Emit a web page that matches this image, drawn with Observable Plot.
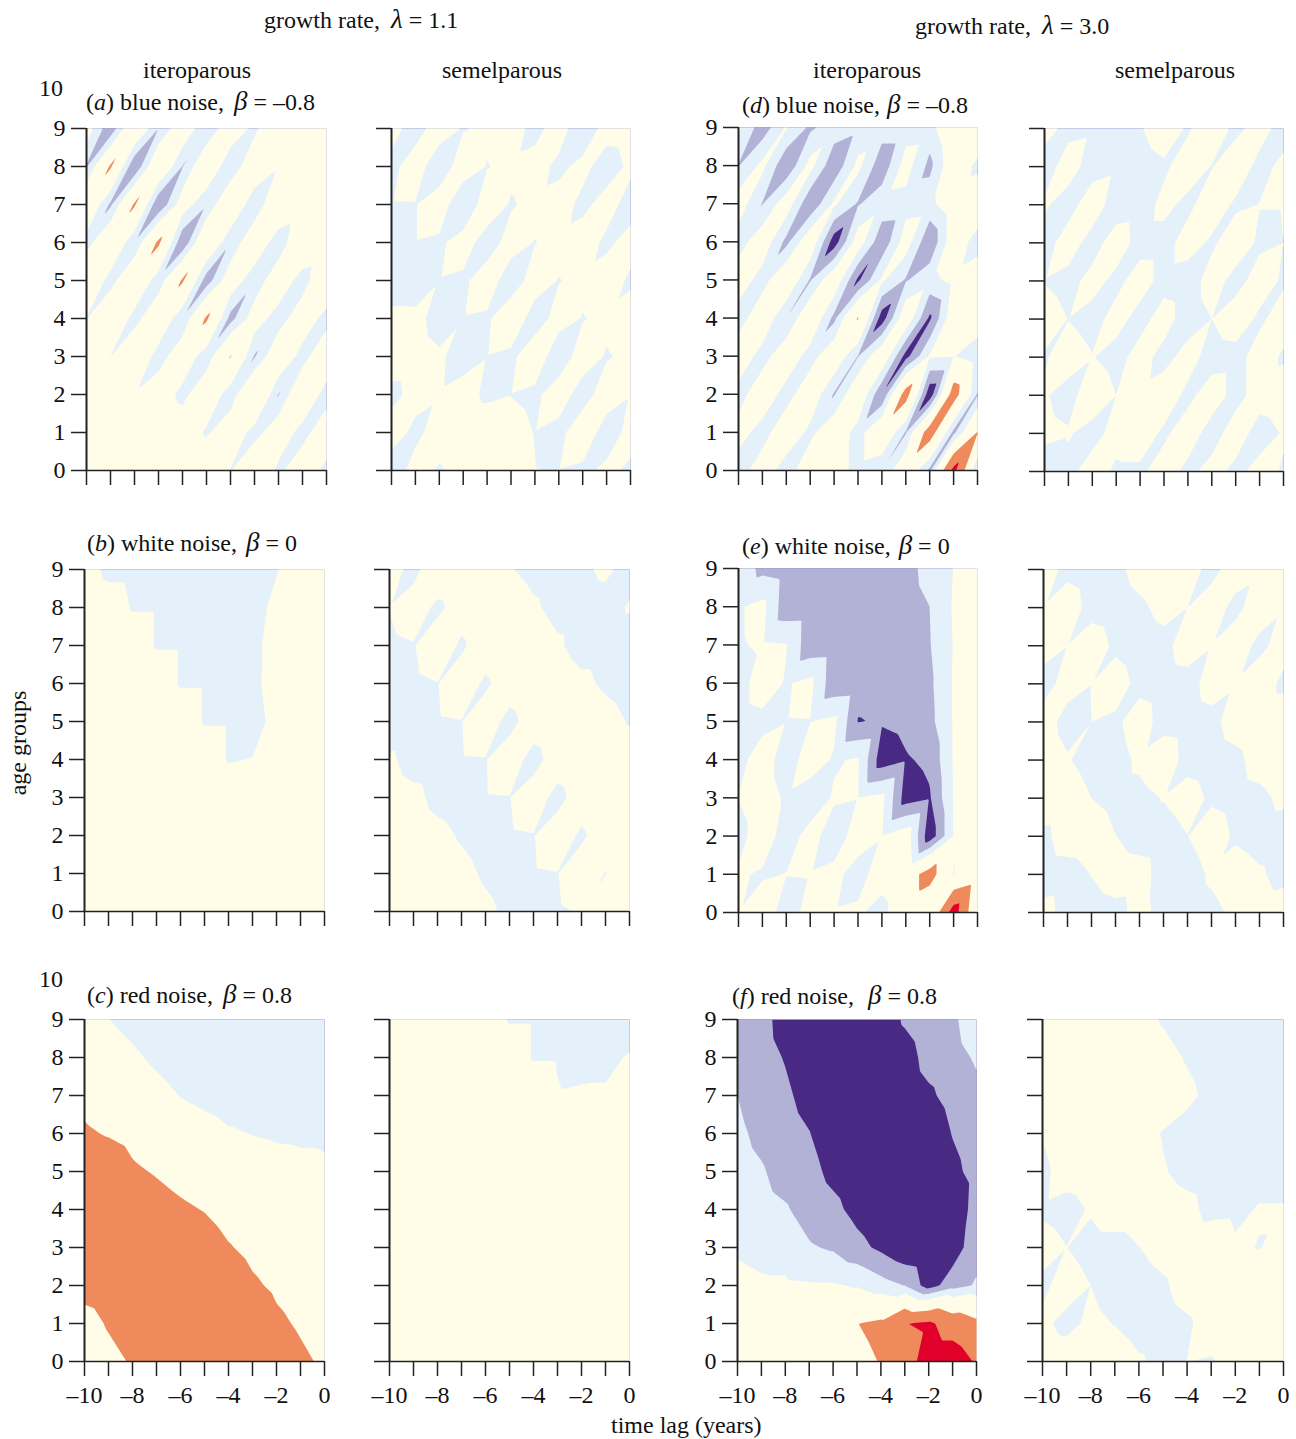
<!DOCTYPE html>
<html><head><meta charset="utf-8">
<script src="https://cdn.jsdelivr.net/npm/d3@7"></script>
<script src="https://cdn.jsdelivr.net/npm/@observablehq/plot@0.6"></script>
<style>
html,body{margin:0;padding:0;background:#fff}
#page{position:relative;width:1296px;height:1439px;overflow:hidden;font-family:"Liberation Serif",serif;font-size:24px;color:#111}
#page svg{position:absolute;overflow:visible;background:none}
.t{position:absolute;line-height:24px;white-space:pre}
.g{font-size:27px;font-style:italic}
</style></head><body><div id="page"></div>
<script>
const lags=[-10,-9,-8,-7,-6,-5,-4,-3,-2,-1,0];
const ages=[9,8,7,6,5,4,3,2,1,0];
const levels=[-100,-2,-1,0,2,4];
const colors=["#482a85","#b2b2d6","#e4f1fb","#fffce8","#ef8a5d","#e0002a"];
// each table: one row per age (9 at the top), one column per lag (-10 .. 0)
const iter11Blue=[
[.7,-1.8,1.5,-1,1,-.9,.9,-.3,1.5,1.5,1.5],
[-1.1,2.2,-1.98,1.5,-1.05,1.3,-.9,1.15,.1,1.5,1.5],
[1.5,-1.2,2.2,-1.95,.7,-.9,1.5,-.9,1.4,.8,1.5],
[-.5,1.5,-.9,2.3,-1.9,1.6,-.9,1.2,-.8,1.4,1],
[1.5,-.5,1.5,-.7,2.2,-1.6,.9,-.8,1,-.6,1.4],
[-.05,1.5,-.5,1.3,-.9,2.25,-1.4,.7,-.6,.9,-.5],
[1.5,-.02,1.5,-.6,1,-.7,2.08,-1.1,1.2,-.5,1.2],
[1.5,1.5,.1,.9,-.4,1.2,-.7,2.04,-1.06,1.4,-.6],
[1.5,1.5,1.5,1.5,1,-.2,1,-.5,.9,-.5,1],
[1.5,1.5,1.5,1.5,1.5,1.5,-.05,1.5,-.3,1,-.4]];
const semel11Blue=[
[.4,-.5,.6,-.08,.25,.6,-.4,.6,-.9,.5,.6],
[-.3,.6,-.8,.7,-.05,.25,.5,-.3,.35,-.6,.25],
[-.05,-.05,.7,-1,.7,-.1,.3,.5,-.3,.5,-.5],
[-.8,-.05,-.2,.5,-.5,.4,-.03,.3,.6,-.25,.45],
[-.9,-.8,-.05,-.2,.55,-.55,.45,-.04,.25,.6,-.2],
[.4,.35,-.45,-.05,-.15,.7,-.45,.35,-.05,.2,.6],
[.6,.5,.15,-.4,-.03,-.2,.6,-.6,.5,-.08,.2],
[-.3,.35,.1,.4,-.2,-.02,-.2,.5,-.45,.55,.05],
[.5,-.25,.45,.7,.7,.3,-.03,-.3,.7,-.5,.3],
[-.6,.4,-.1,.3,.7,.6,.02,-.03,-.2,.2,-.15]];
const iter11White=[
[.4,-.2,-.2,-.4,-.4,-.4,-.4,-.3,-.05,.6,.8],
[.6,.4,-.05,-.05,-.3,-.4,-.4,-.3,.2,.8,.8],
[.8,.6,.4,-.05,-.05,-.3,-.3,-.2,.3,.8,.8],
[.8,.8,.6,.4,-.05,-.05,-.3,-.2,.35,.8,.8],
[.8,.8,.8,.6,.4,-.05,-.05,-.3,.25,.8,.8],
[.8,.8,.8,.8,.6,.4,-.05,.02,.6,.8,.8],
[.8,.8,.8,.8,.8,.8,.5,.5,.8,.8,.8],
[.8,.8,.8,.8,.8,.8,.8,.8,.8,.8,.8],
[.8,.8,.8,.8,.8,.8,.8,.8,.8,.8,.8],
[.8,.8,.8,.8,.8,.8,.8,.8,.8,.8,.8]];
const semel11White=[
[.4,-.3,.7,.8,.9,.1,-.4,-.6,-.2,.2,-.4],
[.03,.5,-.2,.4,.8,.8,.2,-.4,-.5,-.4,.1],
[-.2,-.05,.6,-.15,.5,.8,.8,.2,-.5,-.5,-.6],
[-.8,-.2,-.02,.5,-.15,.5,.8,.8,.3,-.2,-.6],
[-.9,-.8,-.08,-.02,.5,-.3,.5,.8,.9,.5,-.1],
[.25,-.6,-.7,-.05,-.03,.5,-.35,.5,.8,.9,.9],
[.8,.4,-.4,-.7,-.05,-.02,.5,-.3,.5,.9,.9],
[.9,.8,.4,-.15,-.6,-.1,-.03,.5,-.15,.5,.9],
[.9,.9,.8,.4,-.2,-.6,-.08,-.02,.5,-.03,.7],
[.9,.9,.9,.8,.3,-.3,-.5,-.1,.05,.7,.05]];
const iter11Red=[
[.55,.02,-.42,-.9,-.95,-.95,-.95,-.95,-.95,-.95,-.95],
[1.09,.65,.24,-.26,-.7,-.9,-.95,-.9,-.95,-.9,-.75],
[1.63,1.27,.9,.45,-.04,-.3,-.52,-.59,-.6,-.55,-.45],
[2.18,1.9,1.56,1.17,.7,.45,.13,-.03,-.12,-.15,-.15],
[3,2.9,2.22,1.88,1.5,1.19,.78,.53,.35,.25,.15],
[3.5,3.5,3,2.6,2.24,1.94,1.43,1.1,.83,.65,.45],
[3.5,3.5,3.5,3.3,3,2.7,2.1,1.66,1.3,1.05,.8],
[2.8,3.2,3.5,3.5,3.5,3.4,2.8,2.2,1.78,1.44,1.1],
[1.2,2.2,3,3.5,3.5,3.5,3.3,2.9,2.25,1.84,1.4],
[.6,1.4,2.2,3.5,3.5,3.5,3.5,3.3,2.7,2.25,1.8]];
const semel11Red=[
[.6,.6,.6,.6,.6,-.05,-.05,-.4,-.4,-.4,-.4],
[.5,.5,.5,.5,.5,.4,-.05,-.05,-.25,-.2,.07],
[.5,.5,.5,.5,.5,.5,.5,.05,.1,.1,.5],
[.5,.5,.5,.5,.5,.5,.5,.5,.5,.5,.5],
[.5,.5,.5,.5,.5,.5,.5,.5,.5,.5,.5],
[.5,.5,.5,.5,.5,.5,.5,.5,.5,.5,.5],
[.5,.5,.5,.5,.5,.5,.5,.5,.5,.5,.5],
[.5,.5,.5,.5,.5,.5,.5,.5,.5,.5,.5],
[.5,.5,.5,.5,.5,.5,.5,.5,.5,.5,.5],
[.5,.5,.5,.5,.5,.5,.5,.5,.5,.5,.5]];
const iter30Blue=[
[.2,-1.6,.1,-1.2,-.4,-.8,-.5,-.5,-.4,1.2,1.3],
[-1.05,.3,-1.9,.4,-1.8,.3,-1.7,.5,-1.3,1,-.3],
[.6,-1.05,.7,-1.9,.2,-1.1,-.3,-.4,-.3,.8,1],
[-.5,.8,-1.3,1,-2.6,.7,-1.8,.6,-1.9,.8,-.5],
[.7,-.5,1.2,-1.1,1,-2.2,.2,-1.1,-.3,.3,.8],
[-.6,1,-1.02,1.2,-1.3,2.1,-2.6,1,-2.2,.9,.6],
[.9,-.5,.9,-.5,1,-1.05,1.1,-2.4,.1,.05,-.6],
[-.5,.9,-.5,.9,-1.1,1.2,-1.98,2.8,-2.8,2.9,-1.1],
[.5,-.5,.9,-.3,1,-.5,1.4,-1.1,3,-1.3,2.1],
[-.6,.7,-.6,.9,.8,-.5,-1,1.2,-1.3,4.6,-1.1]];
const semel30Blue=[
[.4,-.3,-.15,-.6,-.1,.7,-.15,.8,-.3,.5,-.5],
[-.5,.5,-.5,-.2,-.6,-.2,.6,-.05,.8,-.4,.3],
[.15,-.5,.7,-.6,-.5,.3,-.3,.7,-.2,.03,.03],
[-.5,.6,-.5,.6,-.4,-.4,.5,-.2,.7,-.2,.0],
[-.05,-.4,.4,-.3,.5,-.4,-.6,.5,-.4,.5,-.15],
[.5,-.02,-.4,.4,-.4,.5,-.6,.0,.6,-.2,.5],
[-.1,.5,.05,-.4,.45,-.4,.5,-.5,-.4,.5,-.15],
[.1,-.4,.7,.0,.3,.7,-.3,.6,-.4,.5,.7],
[.3,.1,-.4,.4,.6,-.2,.6,-.5,.6,-.5,.1],
[-.7,-.3,.5,-.2,-.2,.5,-.3,.4,-.3,.4,-.1]];
const iter30White=[
[-.3,-1.29,-1.5,-1.6,-1.6,-1.6,-1.6,-1.4,-.6,.03,.8],
[-.1,.3,-1.64,-1.6,-1.6,-1.6,-1.6,-1.5,-1,.1,.9],
[-.1,.15,.05,-1.67,-1.6,-1.6,-1.6,-1.6,-1.05,.05,.9],
[-.5,.6,-.1,.3,-1.7,-1.6,-1.6,-1.6,-1.2,.1,.9],
[-.5,-.3,-.03,-.02,.25,-2.05,-1.9,-1.7,-1.3,.1,.9],
[-.3,.5,-.5,.5,-.1,.1,-2.6,-2.1,-1.8,.1,.9],
[.02,.5,-.15,-.5,.1,.02,.3,-2.5,-2.1,.05,.9],
[-.3,.5,-.4,.3,-.4,.35,.05,.7,-2.7,.05,.9],
[.1,-.1,.02,.05,.2,-.3,.4,1,2.8,-.05,.9],
[.02,.5,-.4,.3,.05,.13,-.35,1,.1,5,.1]];
const semel30White=[
[.5,-.3,-.6,-.3,.4,.7,.4,-.3,.5,.2,.9],
[.05,.6,-.4,-.6,-.2,.3,.0,.5,-.3,.6,.1],
[.4,.02,.6,-.2,-.6,-.3,.5,.05,.6,-.3,.5],
[-.4,.4,.02,.5,-.3,-.5,-.4,.4,.1,.7,-.3],
[.5,-.4,.0,-.2,.5,-.4,-.5,-.3,.5,.8,.9],
[.7,.1,-.5,-.4,.2,.7,-.4,-.6,-.3,.5,.9],
[.8,.7,.0,-.4,-.3,.05,.5,-.2,-.5,-.3,.3],
[-.3,.6,.7,.02,-.4,-.5,-.02,.7,-.2,-.6,-.7],
[-.6,-.5,.03,.5,.4,-.4,-.6,.2,.7,.2,-.5],
[.4,-.4,-.5,-.3,.3,-.3,-.6,-.3,.25,.7,.9]];
const iter30Red=[
[-1.6,-1.75,-2.3,-2.6,-2.8,-2.8,-2.7,-1.85,-1.3,-1.15,-.5],
[-1.3,-1.7,-2.05,-2.5,-2.8,-2.9,-2.9,-2.5,-1.6,-1.3,-.9],
[-1,-1.5,-1.85,-2.3,-2.7,-2.9,-3,-2.7,-2.2,-1.6,-1.2],
[-.8,-1.25,-1.65,-1.97,-2.5,-2.8,-3,-2.9,-2.8,-1.95,-1.4],
[-.6,-.9,-1.4,-1.7,-2.25,-2.6,-2.9,-3,-3,-2.3,-1.6],
[-.4,-.65,-.9,-1.4,-1.75,-2.3,-2.7,-3,-3.1,-2.9,-1.5],
[-.12,-.3,-.4,-.9,-1.12,-1.7,-2.2,-2.8,-3,-2.6,-1.3],
[.3,.15,.15,.1,.1,-.08,-.6,-1.02,-2.5,-1.4,-.9],
[.8,.8,.8,.9,.9,1.98,2.3,3.95,4.3,3.2,2.4],
[1,1,1,1,1,1.7,2.05,3,5,5,3.8]];
const semel30Red=[
[.8,.8,.8,.8,.4,-.1,-.6,-.6,-.6,-.6,-.6],
[.8,.8,.8,.8,.7,.4,-.1,-.6,-.6,-.6,-.6],
[.8,.8,.8,.8,.8,.7,.3,-.35,-.6,-.6,-.6],
[.07,.8,.8,.8,.4,-.07,-.5,-.6,-.6,-.6,-.6],
[-.3,.6,.8,.8,.8,.1,-.4,-.6,-.6,-.5,-.5],
[-.2,-.5,.15,.7,.7,.7,.4,-.4,-.3,.1,.1],
[.5,.02,-.5,-.5,-.02,.5,.8,1,.2,-.05,.5],
[-.3,.6,.0,-.5,-.6,-.2,.6,.9,.9,.9,.9],
[.3,-.4,.3,-.05,-.5,-.6,-.2,.6,.9,.9,.9],
[.9,.8,.8,.7,.15,-.3,.02,-.1,.5,.9,.9]];

const panels=[
 {grid:iter11Blue,  L:86,  R:326, T:128, B:470, yl:1, xl:0},
 {grid:semel11Blue, L:391, R:630, T:128, B:470, yl:0, xl:0},
 {grid:iter30Blue,  L:738, R:977, T:127, B:470, yl:1, xl:0},
 {grid:semel30Blue, L:1044,R:1283,T:128, B:471, yl:0, xl:0},
 {grid:iter11White, L:84,  R:324, T:569, B:911, yl:1, xl:0},
 {grid:semel11White,L:389, R:629, T:569, B:911, yl:0, xl:0},
 {grid:iter30White, L:738, R:977, T:568, B:912, yl:1, xl:0},
 {grid:semel30White,L:1043,R:1283,T:569, B:912, yl:0, xl:0},
 {grid:iter11Red,   L:84,  R:324, T:1019,B:1361,yl:1, xl:1},
 {grid:semel11Red,  L:389, R:629, T:1019,B:1361,yl:0, xl:1},
 {grid:iter30Red,   L:737, R:976, T:1019,B:1361,yl:1, xl:1},
 {grid:semel30Red,  L:1042,R:1283,T:1019,B:1361,yl:0, xl:1}
];
const greek=(ch,m)=>`<span class="g" style="margin-left:${m}px">${ch}</span>`;
const labels=[
 [264,27,`growth rate, ${greek('λ',5)} = 1.1`],[915,33,`growth rate, ${greek('λ',5)} = 3.0`],
 [143,78,'iteroparous'],[442,78,'semelparous'],[813,78,'iteroparous'],[1115,78,'semelparous'],
 [39,96,'10'],[39,987,'10'],
 [86,109,`(<i>a</i>) blue noise, ${greek('β',4)} = –0.8`],[742,112,`(<i>d</i>) blue noise, ${greek('β',1)} = –0.8`],
 [87,550,`(<i>b</i>) white noise, ${greek('β',3)} = 0`],[742,553,`(<i>e</i>) white noise, ${greek('β',2)} = 0`],
 [87,1002,`(<i>c</i>) red noise, ${greek('β',4)} = 0.8`],[732,1003,`(<i>f</i>) red noise, ${greek('β',8)} = 0.8`],
 [611,1433,'time lag (years)']
];
// linear interpolation on triangles, each grid cell cut along its rising diagonal
function triangulated(index,w,h,X,Y,V){
  const nc=lags.length,nr=ages.length,x0=X[0],dx=X[1]-X[0],y0=Y[0],dy=Y[nc]-Y[0];
  const out=new Float64Array(w*h);
  for(let py=0;py<h;py++)for(let px=0;px<w;px++){
    const u=(px+.5-x0)/dx,v=(py+.5-y0)/dy;
    const c=Math.max(0,Math.min(nc-2,Math.floor(u))),r=Math.max(0,Math.min(nr-2,Math.floor(v)));
    const fu=u-c,fv=v-r;
    const TL=V[r*nc+c],TR=V[r*nc+c+1],BL=V[(r+1)*nc+c],BR=V[(r+1)*nc+c+1];
    out[py*w+px]=fu+fv<1?TL+fu*(TR-TL)+fv*(BL-TL):BR+(1-fu)*(BL-BR)+(1-fv)*(TR-BR);
  }
  return out;
}
const page=document.getElementById('page');
const mL=60,mT=6,mR=6,mB=50;
for(const p of panels){
  const pts=p.grid.flatMap((row,r)=>row.map((v,c)=>({lag:lags[c],age:ages[r],v})));
  const svg=Plot.plot({
    width:p.R-p.L+mL+mR,height:p.B-p.T+mT+mB,marginLeft:mL,marginRight:mR,marginTop:mT,marginBottom:mB,
    style:{fontFamily:'"Liberation Serif",serif',fontSize:'24px',color:'#111',background:'none',overflow:'visible'},
    x:{domain:[-10,0]},y:{domain:[0,9]},
    color:{type:'ordinal',domain:levels,range:colors},
    marks:[
      Plot.contour(pts,{x:'lag',y:'age',fill:'v',thresholds:levels,interpolate:triangulated,pixelSize:1}),
      Plot.axisY({ticks:ages,tickSize:15,tickPadding:6,label:null,strokeWidth:1.5,stroke:'#222',
        tickFormat:d=>p.yl?String(d):''}),
      Plot.axisX({ticks:lags,tickSize:15,tickPadding:9,label:null,strokeWidth:1.5,stroke:'#222',
        tickFormat:d=>(p.xl&&d%2===0)?String(d).replace('-','–'):''}),
      Plot.ruleX([-10],{stroke:'#222',strokeWidth:2}),
      Plot.ruleY([0],{stroke:'#222',strokeWidth:1.5})
    ]
  });
  svg.style.left=(p.L-mL)+'px';svg.style.top=(p.T-mT)+'px';
  page.appendChild(svg);
}
for(const [x,base,html] of labels){
  const d=document.createElement('div');d.className='t';d.style.left=x+'px';d.style.top=(base-20)+'px';d.innerHTML=html;page.appendChild(d);
}
const ag=document.createElement('div');ag.className='t';ag.textContent='age groups';
ag.style.left='18px';ag.style.top='743px';ag.style.transform='translate(-50%,-50%) rotate(-90deg)';page.appendChild(ag);
</script></body></html>
